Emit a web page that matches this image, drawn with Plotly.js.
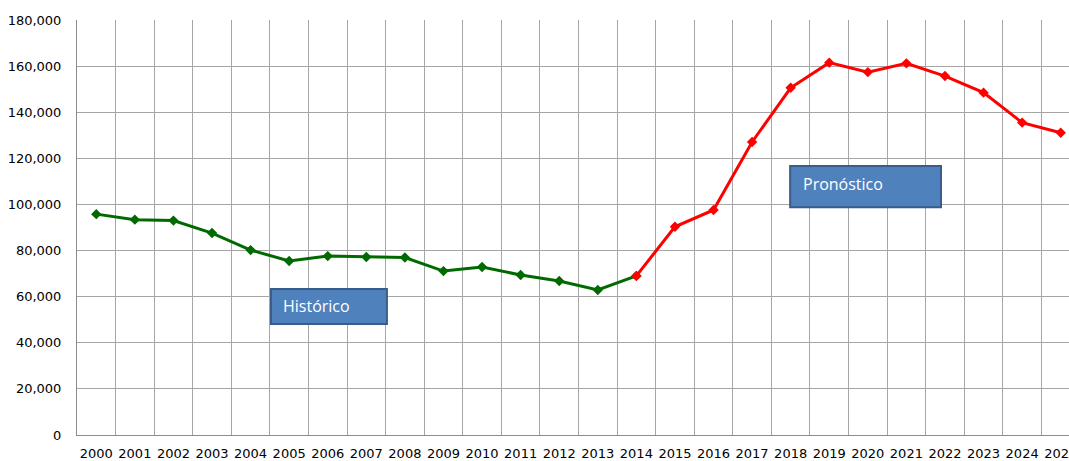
<!DOCTYPE html>
<html>
<head>
<meta charset="utf-8">
<script src="https://cdn.plot.ly/plotly-3.0.1.min.js"></script>
<style>
html,body{margin:0;padding:0;overflow:hidden;background:#fff;}
#chart{width:1085px;height:461px;}
</style>
</head>
<body>
<div id="chart"></div>
<script>
const years = ['2000','2001','2002','2003','2004','2005','2006','2007','2008','2009','2010','2011','2012','2013','2014','2015','2016','2017','2018','2019','2020','2021','2022','2023','2024','2025'];
const histYears = ['2000','2001','2002','2003','2004','2005','2006','2007','2008','2009','2010','2011','2012','2013','2014'];
const histValues = [95800, 93400, 93000, 87600, 80200, 75500, 77600, 77200, 77000, 71100, 72900, 69400, 66800, 62900, 69000];
const foreYears = ['2014','2015','2016','2017','2018','2019','2020','2021','2022','2023','2024','2025'];
const foreValues = [69000, 90300, 97600, 127100, 150600, 161500, 157400, 161200, 155700, 148500, 135500, 131100];
const yTicks = [0, 20000, 40000, 60000, 80000, 100000, 120000, 140000, 160000, 180000];
const histLabel = 'Histórico';
const foreLabel = 'Pronóstico';

const tickFont = '"DejaVu Sans", "Liberation Sans", sans-serif';
const boxFont = '"Open Sans", "Liberation Sans", sans-serif';
const traces = [
  {x: histYears, y: histValues, type: 'scatter', mode: 'lines+markers', name: histLabel,
   line: {color: '#006a00', width: 3}, marker: {symbol: 'diamond', size: 8, color: '#006a00'}},
  {x: foreYears, y: foreValues, type: 'scatter', mode: 'lines+markers', name: foreLabel,
   line: {color: '#ff0000', width: 3}, marker: {symbol: 'diamond', size: 8, color: '#ff0000'}}
];
const box = (x0, x1, y0, y1) => ({type: 'rect', xref: 'paper', yref: 'paper', x0, x1, y0, y1,
  fillcolor: '#4f81bd', line: {color: '#385d8a', width: 2}, layer: 'above'});
const layout = {
  width: 1085, height: 461,
  margin: {l: 77, r: 5, t: 20, b: 26},
  paper_bgcolor: '#fff', plot_bgcolor: '#fff',
  showlegend: false,
  font: {family: tickFont, size: 13, color: '#000'},
  xaxis: {type: 'category', categoryorder: 'array', categoryarray: years, range: [-0.5, 25.5],
    tickson: 'boundaries', showgrid: true, gridcolor: '#a6a6a6', gridwidth: 1, automargin: false,
    showline: true, linecolor: '#8c8c8c', linewidth: 1, ticks: '', ticklabelstandoff: 6, tickangle: 0,
    tickfont: {size: 13, family: tickFont}, fixedrange: true},
  yaxis: {range: [0, 180000], tickvals: yTicks, tickformat: ',d', showgrid: true, gridcolor: '#a6a6a6',
    gridwidth: 1, showline: true, linecolor: '#8c8c8c', linewidth: 1, zeroline: false, ticks: '',
    automargin: false, ticklabelstandoff: 12,
    tickfont: {size: 13, family: tickFont}, fixedrange: true},
  shapes: [box(0.1934, 0.309, 0.2675, 0.3518), box(0.711, 0.8614, 0.549, 0.648)],
  annotations: [
    {xref: 'paper', yref: 'paper', x: 0.2034, y: 0.3108, xanchor: 'left', yanchor: 'middle', showarrow: false,
     text: histLabel, font: {family: boxFont, size: 16, color: '#fff'}},
    {xref: 'paper', yref: 'paper', x: 0.7218, y: 0.6048, xanchor: 'left', yanchor: 'middle', showarrow: false,
     text: foreLabel, font: {family: boxFont, size: 16, color: '#fff'}}
  ]
};
Plotly.newPlot('chart', traces, layout, {displayModeBar: false, staticPlot: true});
</script>
</body>
</html>
